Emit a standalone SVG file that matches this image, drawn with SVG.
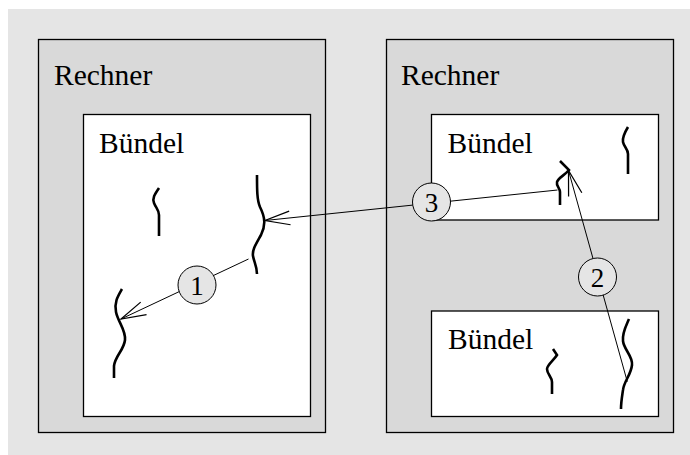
<svg xmlns="http://www.w3.org/2000/svg" width="690" height="455" viewBox="0 0 690 455">
  <style>
    .rechner { fill: #d9d9d9; stroke: #000; stroke-width: 1.3; }
    .buendel { fill: #fff; stroke: #000; stroke-width: 1.3; }
    .label { font-family: "Liberation Serif", "Times New Roman", serif; font-size: 29.5px; fill: #000; }
    .thread { fill: none; stroke: #000; stroke-width: 2.6; stroke-linecap: butt; stroke-linejoin: miter; }
    .conn { fill: none; stroke: #000; stroke-width: 1; }
    .badge { fill: #e5e5e5; stroke: #000; stroke-width: 1; }
    .num { font-family: "Liberation Serif", "Times New Roman", serif; font-size: 27px; fill: #000; text-anchor: middle; }
  </style>
  <defs>
    <marker id="open-arrow" markerUnits="userSpaceOnUse" markerWidth="30" markerHeight="20" viewBox="-22 -8 24 16" refX="0" refY="0" orient="auto" overflow="visible">
      <path d="M-20,-5.5 L0,0 L-20,5.5" fill="none" stroke="#000" stroke-width="1"/>
    </marker>
  </defs>

  <!-- backdrop -->
  <rect x="8" y="9" width="682" height="446" fill="#e5e5e5"/>

  <!-- left computer -->
  <g id="rechner-links">
    <rect class="rechner" x="38.5" y="39.5" width="287" height="393"/>
    <text class="label" x="54" y="84.5">Rechner</text>
  </g>
  <g id="buendel-links">
    <rect class="buendel" x="83.5" y="114.5" width="227" height="302"/>
    <text class="label" x="99" y="152.5">Bündel</text>
    <path id="thread-a" class="thread" d="M159,188 C155,194 152,198 154,203 C156,208 159,210 159,215 L159,236"/>
    <path id="thread-b" class="thread" d="M257,175 C257,190 257,200 260,207 C265,217 266,225 261,235 C256,244 252,250 253,256 C254,262 257,266 257,274"/>
    <path id="thread-c" class="thread" d="M122,289 C118,296 114,302 116,312 C118,322 126,330 125,340 C124,350 115,356 114,366 L114,378"/>
  </g>

  <!-- right computer -->
  <g id="rechner-rechts">
    <rect class="rechner" x="386.5" y="39.5" width="287" height="393"/>
    <text class="label" x="401" y="84.5">Rechner</text>
  </g>
  <g id="buendel-rechts-oben">
    <rect class="buendel" x="431.5" y="114.5" width="227" height="105.5"/>
    <text class="label" x="447.5" y="152.5">Bündel</text>
    <path id="thread-d" class="thread" d="M628,127 C625,132 622,137 623,142 C624,147 628,149 628,154 L628,174"/>
    <path id="thread-e" class="thread" d="M560,161 L569,170 C565,175 558,178 557,182 C556,186 560,188 560,192 L560,205"/>
  </g>
  <g id="buendel-rechts-unten">
    <rect class="buendel" x="431.5" y="311" width="227" height="105.5"/>
    <text class="label" x="448" y="349">Bündel</text>
    <path id="thread-f" class="thread" d="M553,349 L557,355 C554,360 547,365 547,369 C547,374 552,377 552,382 L552,394"/>
    <path id="thread-g" class="thread" d="M629,319 C626,326 622,333 623,341 C624,350 633,356 632,365 C631,375 624,381 623,390 C622,397 621,402 621,409"/>
  </g>

  <!-- connectors with numbered badges -->
  <g id="connectors">
    <line class="conn" x1="248.5" y1="259" x2="121" y2="319" marker-end="url(#open-arrow)"/>
    <line class="conn" x1="557.5" y1="190" x2="265" y2="220.5" marker-end="url(#open-arrow)"/>
    <line class="conn" x1="627.3" y1="381.7" x2="568.5" y2="170.5" marker-end="url(#open-arrow)"/>

    <g id="badge-1">
      <circle class="badge" cx="197" cy="285" r="19"/>
      <text class="num" x="197" y="294.5">1</text>
    </g>
    <g id="badge-2">
      <circle class="badge" cx="597.5" cy="277" r="19"/>
      <text class="num" x="597.5" y="286.5">2</text>
    </g>
    <g id="badge-3">
      <circle class="badge" cx="431.5" cy="202" r="19"/>
      <text class="num" x="431.5" y="211.5">3</text>
    </g>
  </g>
</svg>
